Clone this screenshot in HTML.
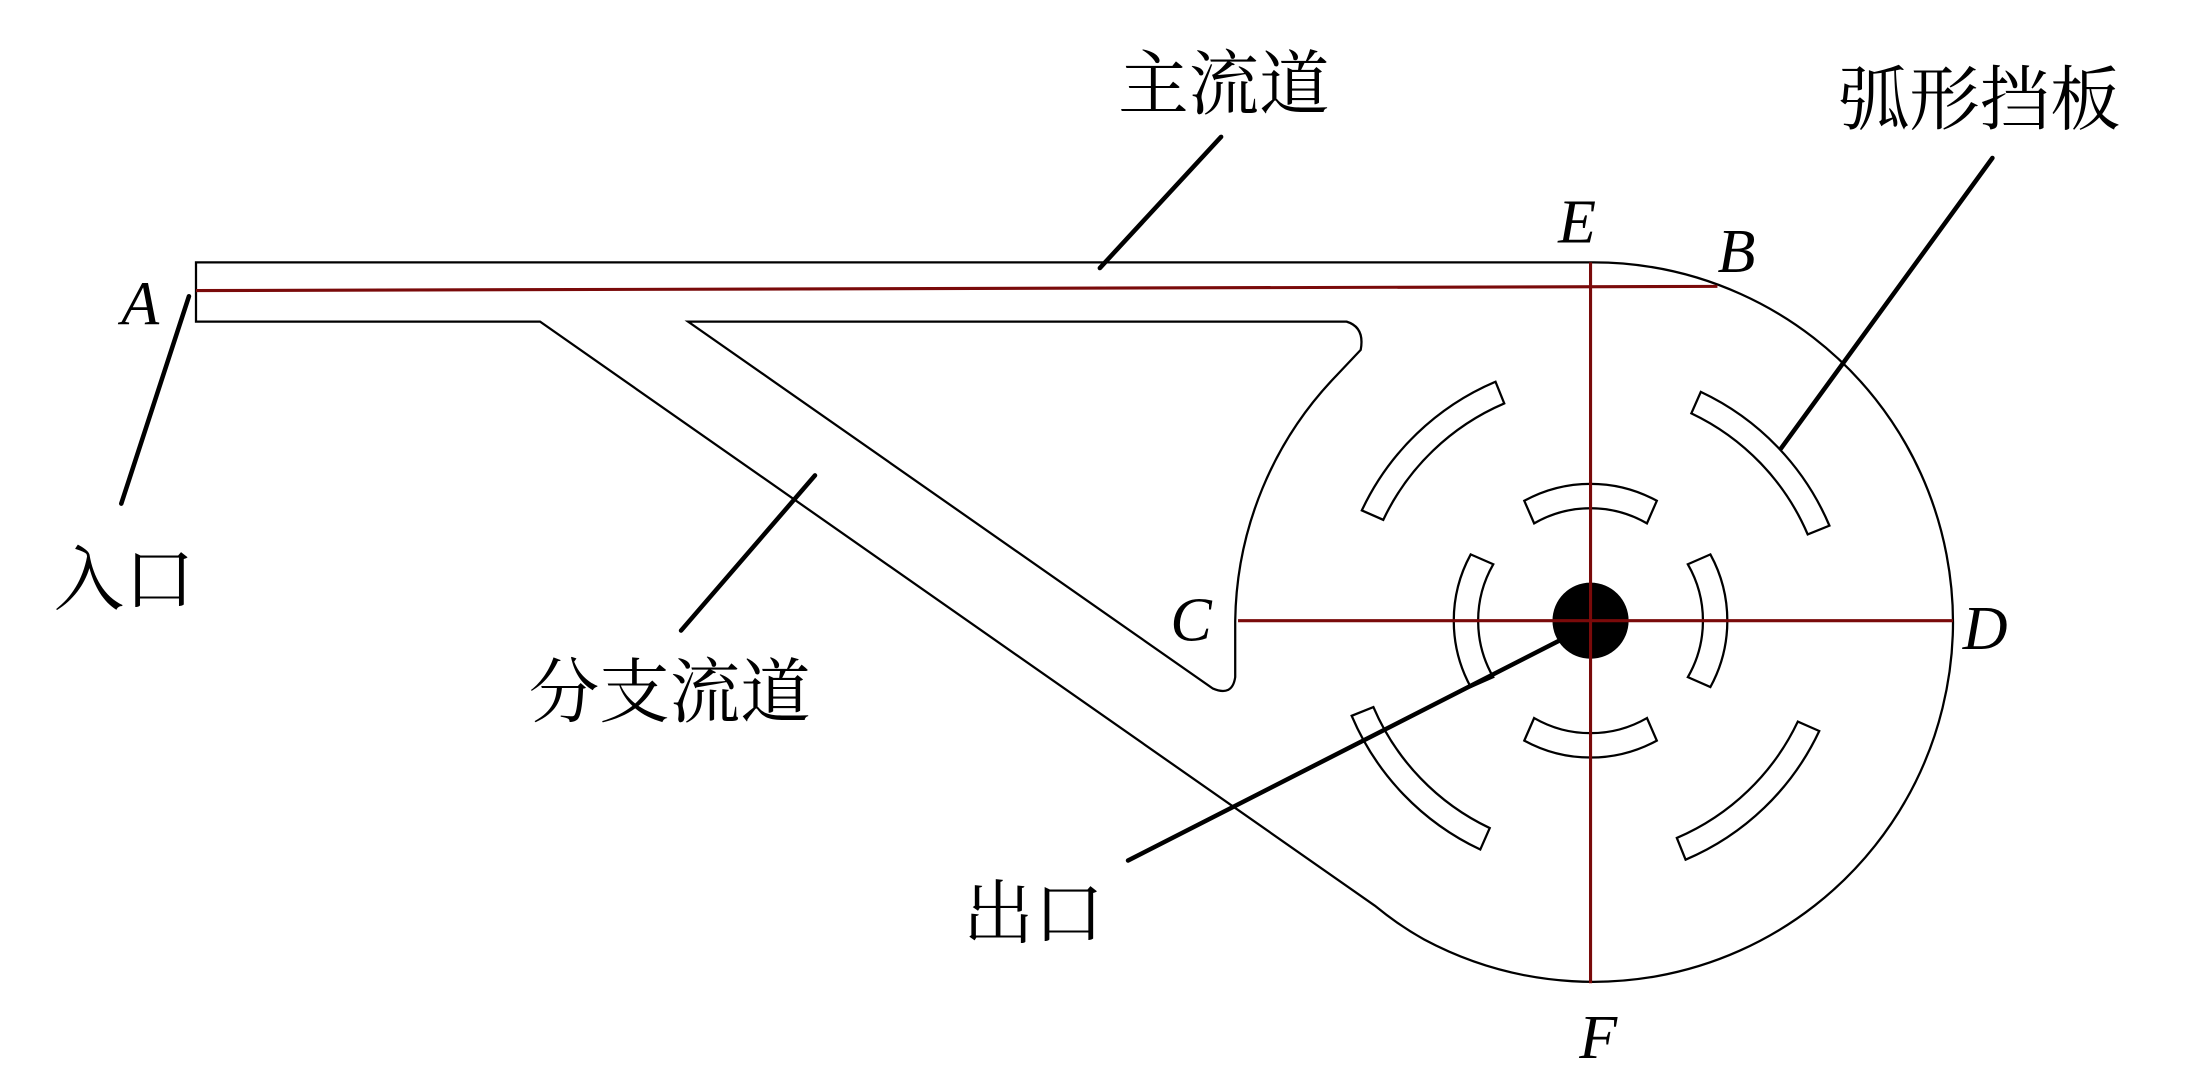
<!DOCTYPE html>
<html><head><meta charset="utf-8"><style>
html,body{margin:0;padding:0;background:#fff;}
svg{display:block;}
.cn{font-family:"Liberation Serif","Noto Serif CJK SC",serif;font-size:50px;fill:#000;}
.lt{font-family:"Liberation Serif",serif;font-style:italic;font-size:44px;fill:#000;}
</style></head><body>
<svg width="2187" height="1082" viewBox="0 0 1551 767" preserveAspectRatio="none" xmlns="http://www.w3.org/2000/svg">
<g fill="none" stroke="#000" stroke-width="1.6">
<path d="M139,186 L1128,186 A255,255 0 1 1 1010,666 Q992,656 975,642 L383,228 L139,228 Z"/>
<path d="M488,228 L955,228 Q968,232 965,248 L948,266 A255,255 0 0 0 876,440 L876,480 Q874,494 860,488 Z"/>
<g id="bf">
<path d="M1206.2,277.8 A184,184 0 0 1 1297.4,372.6 L1282,378.8 A168,168 0 0 0 1199.5,293 Z"/>
<path d="M1081,355 A98,98 0 0 1 1175,355 L1168,371 A80,80 0 0 0 1088,371 Z"/>
</g>
<use href="#bf" transform="rotate(90 1128 440)"/>
<use href="#bf" transform="rotate(180 1128 440)"/>
<use href="#bf" transform="rotate(270 1128 440)"/>
</g>
<ellipse cx="1128" cy="440" rx="27" ry="27" fill="#000"/>
<g stroke="#7a0a0a" stroke-width="2.2">
<line x1="139" y1="206" x2="1218" y2="203"/>
<line x1="1128" y1="186" x2="1128" y2="697"/>
<line x1="878" y1="440" x2="1385" y2="440"/>
</g>
<g stroke="#000" stroke-width="3.2" stroke-linecap="round">
<line x1="866" y1="97" x2="780" y2="190"/>
<line x1="1413" y1="112" x2="1263" y2="318"/>
<line x1="134" y1="210" x2="86" y2="357"/>
<line x1="578" y1="337" x2="483" y2="447"/>
<line x1="1110" y1="452" x2="800" y2="610"/>
</g>
<text class="cn" x="793" y="77">主流道</text>
<text class="cn" x="1304" y="88">弧形挡板</text>
<text class="cn" x="38" y="428">入口</text>
<text class="cn" x="375" y="508">分支流道</text>
<text class="cn" x="683" y="665">出口</text>
<text class="lt" x="86" y="230">A</text>
<text class="lt" x="1105" y="172">E</text>
<text class="lt" x="1218" y="193">B</text>
<text class="lt" x="830" y="454">C</text>
<text class="lt" x="1392" y="460">D</text>
<text class="lt" x="1120" y="750">F</text>
</svg>
</body></html>
